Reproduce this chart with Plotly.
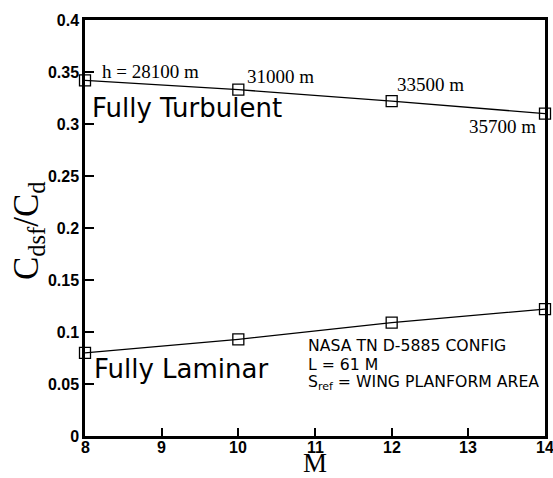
import plotly.graph_objects as go

mach = [8, 10, 12, 14]
turbulent = [0.342, 0.333, 0.322, 0.310]
laminar = [0.080, 0.093, 0.109, 0.122]
alt_labels = ["h = 28100 m", "31000 m", "33500 m", "35700 m"]
x_ticks = [8, 9, 10, 11, 12, 13, 14]
x_ticktext = ["8", "9", "10", "11", "12", "13", "14"]
y_ticks = [0, 0.05, 0.1, 0.15, 0.2, 0.25, 0.3, 0.35, 0.4]
y_ticktext = ["0", "0.05", "0.1", "0.15", "0.2", "0.25", "0.3", "0.35", "0.4"]
note_lines = ["NASA TN D-5885 CONFIG", "L = 61 M", "S<sub>ref</sub> = WING PLANFORM AREA"]
note_y = [0.0875, 0.0692, 0.0510]

fig = go.Figure()
for ys in (turbulent, laminar):
    fig.add_trace(go.Scatter(
        x=mach, y=ys, mode="lines+markers",
        line=dict(color="black", width=1.3),
        marker=dict(symbol="square-open", size=11, color="black", line=dict(width=1.3)),
        showlegend=False, cliponaxis=False))

serif = "Liberation Serif, Times New Roman, serif"
sans = "DejaVu Sans, Verdana, sans-serif"
bold = "Liberation Sans, Arial, sans-serif"

# altitude labels: (xanchor, xshift, yshift)
alt_pos = [("left", 15, 9), ("left", 7, 13), ("left", 3, 17), ("right", -7, -13)]
for xv, yv, txt, (xa, xs, ysh) in zip(mach, turbulent, alt_labels, alt_pos):
    fig.add_annotation(x=xv, y=yv, text=txt, xanchor=xa, yanchor="middle", xshift=xs, yshift=ysh,
                       showarrow=False, font=dict(family=serif, size=19, color="black"))

fig.add_annotation(x=8, y=0.315, text="Fully Turbulent", xanchor="left", yanchor="middle", xshift=5,
                   showarrow=False, font=dict(family=sans, size=26, color="black"))
fig.add_annotation(x=8, y=0.064, text="Fully Laminar", xanchor="left", yanchor="middle", xshift=7,
                   showarrow=False, font=dict(family=sans, size=26, color="black"))
for txt, yv in zip(note_lines, note_y):
    fig.add_annotation(x=10.883, y=yv, text=txt, xanchor="left", yanchor="middle", showarrow=False,
                       font=dict(family=sans, size=15.7, color="black"))

# x tick labels
for xv, txt in zip(x_ticks, x_ticktext):
    fig.add_annotation(x=xv, xref="x", yref="paper", y=0, text="<b>%s</b>" % txt, xanchor="center",
                       yanchor="top", yshift=-1, showarrow=False,
                       font=dict(family=bold, size=16, color="black"))

# axis titles
fig.add_annotation(xref="paper", yref="paper", x=-0.124, y=0.495, text="C<sub>dsf</sub>/C<sub>d</sub>",
                   textangle=-90, showarrow=False, xanchor="center", yanchor="middle",
                   font=dict(family=serif, size=35, color="black"))
fig.add_annotation(xref="paper", yref="paper", x=0.5, y=-0.1, text="M",
                   showarrow=False, xanchor="center", yanchor="bottom", yshift=-2,
                   font=dict(family=serif, size=27, color="black"))

fig.update_layout(
    width=553, height=478,
    margin=dict(l=85, r=8, t=20, b=42),
    paper_bgcolor="white", plot_bgcolor="white",
    xaxis=dict(range=[8, 14], tickvals=x_ticks, ticks="inside", ticklen=8, tickwidth=2,
               tickcolor="black", showgrid=False, zeroline=False, showline=True, linecolor="black",
               linewidth=2.5, mirror=True, automargin=False, showticklabels=False),
    yaxis=dict(range=[0, 0.4], tickvals=y_ticks, ticktext=y_ticktext, ticks="inside", ticklen=9,
               tickwidth=2, tickcolor="black", showgrid=False, zeroline=False, showline=True,
               linecolor="black", linewidth=2.5, mirror=True, automargin=False,
               tickfont=dict(family=bold, size=16, color="black", weight="bold")),
)

fig.write_html("out.html")
